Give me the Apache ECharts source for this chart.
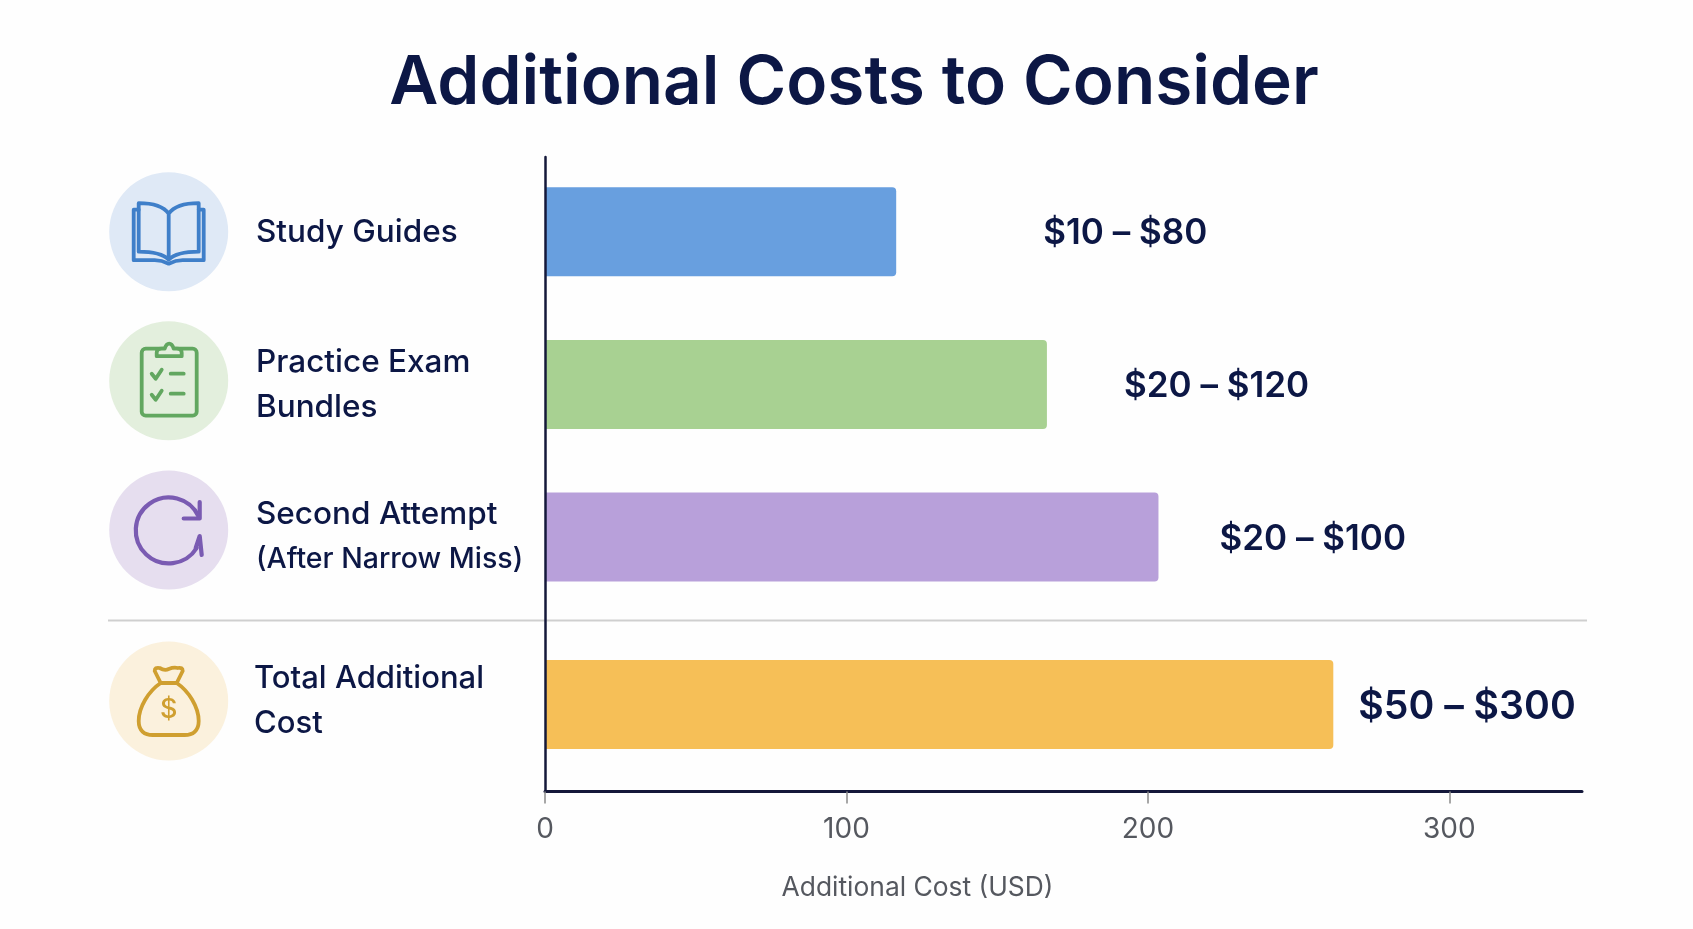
<!DOCTYPE html>
<html>
<head>
<meta charset="utf-8">
<title>Additional Costs to Consider</title>
<script src="https://cdn.jsdelivr.net/npm/echarts@6/dist/echarts.min.js"></script>
<style>
  html, body { margin: 0; padding: 0; background: #fefefe; }
  #chart { width: 1693px; height: 929px; }
</style>
</head>
<body>
<div id="chart"></div>
<script>
// Cost items listed above the divider
const itemCategories = ['Study Guides', 'Practice Exam\nBundles', 'Second Attempt\n(After Narrow Miss)'];
const itemValues = [116.5, 166.5, 203.5];
const itemRanges = ['$10 – $80', '$20 – $120', '$20 – $100'];

// Summary row below the divider
const totalCategories = ['Total Additional\nCost'];
const totalValues = [261.5];
const totalRanges = ['$50 – $300'];

const tickValues = [0, 100, 200, 300];
const axisTitle = 'Additional Cost (USD)';
const chartTitle = 'Additional Costs to Consider';

const INK = '#0c1745';
const itemColors = ['#689fdf', '#a8d192', '#b8a0da'];
const totalColor = '#f6bf57';
const itemLabelGaps = [147, 77, 61];
const itemLabelNudges = [[2, 0, 0, 0], [2, 0, 0, 0], [0, 0, 0, 0]];
const totalLabelGap = 25;
const AXIS_MAX = 344;

const plotLeft = 545, plotWidth = 1037;
const plotTop = 157, plotBottom = 791.5;

const svgUri = (body) => 'data:image/svg+xml;charset=utf-8,' + encodeURIComponent(
  '<svg xmlns="http://www.w3.org/2000/svg" width="120" height="120" viewBox="0 0 120 120">' + body + '</svg>');

const iconBook = svgUri(
  '<g fill="none" stroke="#3f7fc9" stroke-width="3.8" stroke-linejoin="round" stroke-linecap="round">' +
  '<path d="M60 42C55 35 44 31.5 30 31.5V80C44 80 54 82 60 88C66 82 76 80 90 80V31.5C76 31.5 65 35 60 42ZM60 42V88"/>' +
  '<path d="M30 38H25V88.500H46C52 88.500 56 90 60 92C64 90 68 88.500 74 88.500H95V38H90"/></g>');
const iconClipboard = svgUri(
  '<g fill="none" stroke="#62a760" stroke-width="3.8" stroke-linejoin="round" stroke-linecap="round">' +
  '<rect x="33" y="28" width="55" height="67" rx="4"/>' +
  '<path d="M48 35.500V32C48 29 50 28 53 28H56C57 25 58.500 23 60.500 23C62.500 23 64 25 65 28H68C71 28 73 29 73 32V35.500Z" fill="#e3efdd"/>' +
  '<path d="M43 53L47 58L53 49M62 53H75M43 74L47 79L53 70M62 73H75"/></g>');
const iconRetry = svgUri(
  '<g fill="none" stroke="#7a5bb2" stroke-width="4.200" stroke-linejoin="round" stroke-linecap="round">' +
  '<path d="M90 46.500A33 33 0 1 0 88 78"/>' +
  '<path d="M91 32V48.500H75"/>' +
  '<path d="M93 85L91 66L87 78"/></g>');
const iconBag = svgUri(
  '<g fill="none" stroke="#cf9f30" stroke-width="3.8" stroke-linejoin="round" stroke-linecap="round">' +
  '<path d="M52 42L46 30Q46 26 51 27Q56 30 60 28Q65 26 69 27Q74 26 74 30L68 42Z"/>' +
  '<path d="M52 42C40 50 30 66 30 80C30 90 36 94 44 94H76C84 94 90 90 90 80C90 66 80 50 68 42"/></g>');

// Round badge with its line icon, centred on (cx, cy)
function badge(cx, cy, fill, icon) {
  return [
    { type: 'circle', silent: true, shape: { cx: cx, cy: cy, r: 59.500 }, style: { fill: fill } },
    { type: 'image', silent: true, style: { image: icon, x: cx - 60, y: cy - 60, width: 120, height: 120 } }
  ];
}

const badgeX = 168.700;
const graphics = [
  ...badge(badgeX, 231.700, '#dfe9f6', iconBook),
  ...badge(badgeX, 380.700, '#e3efdd', iconClipboard),
  ...badge(badgeX, 530, '#e6deef', iconRetry),
  ...badge(badgeX, 701, '#fbf1dd', iconBag),
  { type: 'text', silent: true, x: badgeX, y: 710,
    style: { text: '$', fill: '#cf9f30', font: '500 27px Inter', textAlign: 'center', textVerticalAlign: 'middle' } },
  { type: 'line', silent: true, shape: { x1: 108, y1: 620.500, x2: 1587, y2: 620.500 },
    style: { stroke: '#cfcfcf', lineWidth: 2 } }
];

const hiddenValueAxis = (gridIndex) => ({
  type: 'value', gridIndex: gridIndex, min: 0, max: AXIS_MAX, show: false
});

const categoryAxis = (gridIndex, data, labelGap, padding, fontSize) => ({
  type: 'category', gridIndex: gridIndex, data: data, inverse: true,
  axisLine: { show: false }, axisTick: { show: false },
  axisLabel: {
    align: 'left', margin: labelGap, color: INK, fontFamily: 'Inter', fontWeight: 500,
    fontSize: fontSize, lineHeight: 45, padding: padding, interval: 0,
    // the parenthetical second line is set tighter than the rest
    formatter: (v) => v.split('\n').map((line) =>
      line.startsWith('(') ? '{tight|' + line + '}' : '{line|' + line + '}').join('\n'),
    rich: {
      line: { fontSize: fontSize, lineHeight: 45, fontFamily: 'Inter', fontWeight: 500, color: INK },
      tight: { fontSize: 28.500, lineHeight: 45, fontFamily: 'Inter', fontWeight: 500, color: INK }
    }
  }
});

const barLabel = (ranges, fontSize, offset) => ({
  show: true, position: 'right', color: INK, fontFamily: 'Inter', fontWeight: 600, fontSize: fontSize,
  offset: offset,
  formatter: (p) => ranges[p.dataIndex]
});

const option = {
  backgroundColor: '#fefefe',
  animation: false,
  title: {
    text: chartTitle, left: 849, top: 45, textAlign: 'center',
    textStyle: { color: INK, fontFamily: 'Inter', fontWeight: 600, fontSize: 67.500 }
  },
  grid: [
    // Frame that carries the visible axes
    { left: plotLeft, width: plotWidth, top: plotTop, height: plotBottom - plotTop, outerBoundsMode: 'none' },
    // Rows above the divider
    { left: plotLeft, width: plotWidth, top: 155.500, height: 457.800, outerBoundsMode: 'none' },
    // Summary row
    { left: plotLeft, width: plotWidth, top: 617.500, height: 174, outerBoundsMode: 'none' }
  ],
  xAxis: [
    {
      type: 'value', gridIndex: 0, min: 0, max: AXIS_MAX, z: 5,
      splitLine: { show: false },
      axisLine: { show: true, lineStyle: { color: '#14183a', width: 3 } },
      axisTick: { show: true, length: 12, lineStyle: { color: '#8a8a8a', width: 1.500 }, customValues: tickValues },
      axisLabel: { color: '#55585f', fontFamily: 'Inter', fontSize: 28, margin: 24, customValues: tickValues },
      name: axisTitle, nameLocation: 'middle', nameGap: 84,
      nameTextStyle: { color: '#55585f', fontFamily: 'Inter', fontSize: 26.400, padding: [0, 292, 0, 0] }
    },
    hiddenValueAxis(1),
    hiddenValueAxis(2)
  ],
  yAxis: [
    {
      type: 'value', gridIndex: 0, min: 0, max: 1, z: 5,
      splitLine: { show: false }, axisTick: { show: false }, axisLabel: { show: false },
      axisLine: { show: true, onZero: false, lineStyle: { color: '#14183a', width: 2.500 } }
    },
    categoryAxis(1, itemCategories.map((c, i) => ({ value: c, textStyle: { align: 'left', padding: itemLabelNudges[i] } })), 289, [0, 0, 0, 0], 31.500),
    categoryAxis(2, totalCategories, 291, [0, 0, 6, 0], 31)
  ],
  series: [
    {
      type: 'bar', name: 'Cost items', xAxisIndex: 1, yAxisIndex: 1, barWidth: 89,
      itemStyle: { borderRadius: [0, 4, 4, 0] },
      label: barLabel(itemRanges, 35, [0, 2]),
      data: itemValues.map((v, i) => ({
        value: v, itemStyle: { color: itemColors[i] }, label: { distance: itemLabelGaps[i] }
      }))
    },
    {
      type: 'bar', name: 'Total', xAxisIndex: 2, yAxisIndex: 2, barWidth: 89,
      itemStyle: { color: totalColor, borderRadius: [0, 4, 4, 0] },
      label: Object.assign(barLabel(totalRanges, 39.200, [0, 3]), { distance: totalLabelGap }),
      data: totalValues
    }
  ],
  graphic: { elements: graphics }
};

const chart = echarts.init(document.getElementById('chart'), null, { renderer: 'canvas' });
chart.setOption(option);
</script>
</body>
</html>
